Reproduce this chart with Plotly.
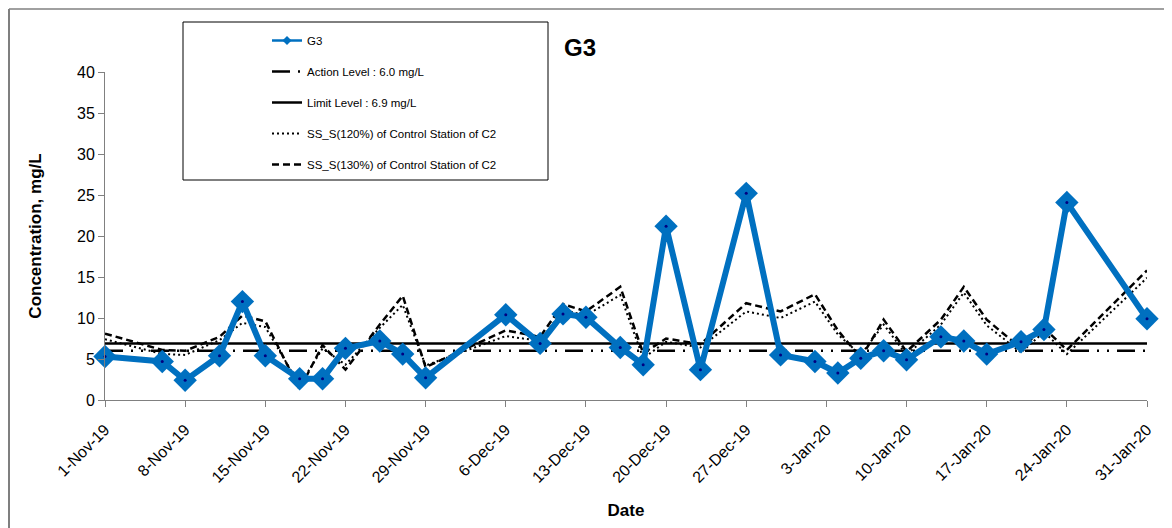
import plotly.graph_objects as go

dates = [
    "2019-11-01", "2019-11-06", "2019-11-08", "2019-11-11", "2019-11-13", "2019-11-15",
    "2019-11-18", "2019-11-20", "2019-11-22", "2019-11-25", "2019-11-27", "2019-11-29",
    "2019-12-06", "2019-12-09", "2019-12-11", "2019-12-13", "2019-12-16", "2019-12-18",
    "2019-12-20", "2019-12-23", "2019-12-27", "2019-12-30", "2020-01-02", "2020-01-04",
    "2020-01-06", "2020-01-08", "2020-01-10", "2020-01-13", "2020-01-15", "2020-01-17",
    "2020-01-20", "2020-01-22", "2020-01-24", "2020-01-31",
]
g3 = [5.3, 4.7, 2.4, 5.4, 12.0, 5.4, 2.6, 2.6, 6.3, 7.2, 5.6, 2.7,
      10.4, 6.9, 10.5, 10.1, 6.4, 4.3, 21.2, 3.7, 25.2, 5.5, 4.7, 3.3,
      5.1, 6.0, 4.9, 7.7, 7.2, 5.6, 7.1, 8.6, 24.1, 9.9]
ss_120 = [7.4, 5.6, 5.5, 7.3, 9.4, 8.9, 1.8, 6.3, 4.3, 8.8, 11.6, 4.2,
          7.8, 7.2, 11.0, 10.3, 12.8, 5.1, 7.1, 6.4, 10.8, 10.0, 12.0, 8.0,
          5.5, 9.2, 5.5, 9.2, 13.1, 9.1, 5.8, 8.3, 5.6, 14.9]
ss_130 = [8.1, 6.1, 6.0, 7.7, 10.3, 9.6, 1.3, 6.7, 3.7, 9.2, 12.7, 4.0,
          8.5, 7.7, 11.7, 10.8, 13.8, 5.7, 7.5, 6.8, 11.8, 10.8, 12.9, 8.5,
          5.1, 9.8, 5.9, 9.8, 13.8, 9.8, 6.3, 8.8, 6.1, 15.8]
action_level = 6.0
limit_level = 6.9
x_range = ["2019-11-01", "2020-01-31"]

BLUE = "#0070C0"
FONT = "Liberation Sans, Arial, sans-serif"

# page body has an 8px margin, so the figure is sized to fit the window
# and positions below are given in window pixels
PLOT_L, PLOT_W, PLOT_B, PLOT_H = 105, 1042, 400, 328


def px_x(v):
    return (v - PLOT_L) / PLOT_W


def px_y(v):
    return (PLOT_B - v) / PLOT_H


fig = go.Figure()

fig.add_trace(go.Scatter(
    x=x_range, y=[action_level] * 2, mode="lines",
    line=dict(color="black", width=2.5, dash="18px,8px,2px,8px,2px,8px"),
    name="Action Level : 6.0 mg/L", legendgroup="b", legendrank=2,
))
fig.add_trace(go.Scatter(
    x=x_range, y=[limit_level] * 2, mode="lines",
    line=dict(color="black", width=2.5),
    name="Limit Level : 6.9 mg/L", legendgroup="c", legendrank=3,
))
fig.add_trace(go.Scatter(
    x=dates, y=ss_120, mode="lines",
    line=dict(color="black", width=2, dash="2px,3px"),
    name="SS_S(120%) of Control Station of C2", legendgroup="d", legendrank=4,
))
fig.add_trace(go.Scatter(
    x=dates, y=ss_130, mode="lines",
    line=dict(color="black", width=2.5, dash="7px,4px"),
    name="SS_S(130%) of Control Station of C2", legendgroup="e", legendrank=5,
))
fig.add_trace(go.Scatter(
    x=dates, y=g3, mode="lines+markers", showlegend=False,
    line=dict(color=BLUE, width=6),
    marker=dict(symbol="diamond", size=18, color=BLUE),
    cliponaxis=False,
))
fig.add_trace(go.Scatter(
    x=dates, y=g3, mode="markers", showlegend=False,
    marker=dict(symbol="circle", size=3, color="#000080"),
    cliponaxis=False,
))
# legend-only entry with small marker
fig.add_trace(go.Scatter(
    x=[None], y=[None], mode="lines+markers",
    line=dict(color=BLUE, width=2.5),
    marker=dict(symbol="diamond", size=7, color=BLUE),
    name="G3", legendgroup="a", legendrank=1,
))

axis_common = dict(
    showline=True, linecolor="#808080", linewidth=1,
    ticks="outside", ticklen=6, tickcolor="#808080",
    showgrid=False, zeroline=False, automargin=False,
)
fig.update_xaxes(
    type="date", range=x_range, dtick=7 * 86400000, tick0="2019-11-01",
    tickformat="%-d-%b-%y", tickangle=-45, ticklabelstandoff=7,
    tickfont=dict(size=16, color="black", family=FONT),
    title=dict(text="<b>Date</b>", font=dict(size=17, color="black", family=FONT), standoff=19),
    **axis_common,
)
fig.update_yaxes(
    range=[0, 40], dtick=5,
    tickfont=dict(size=16, color="black", family=FONT),
    title=dict(text="<b>Concentration, mg/L</b>", font=dict(size=17, color="black", family=FONT), standoff=31),
    **axis_common,
)

fig.add_annotation(
    text="<b>G3</b>", xref="paper", yref="paper", x=px_x(580), y=px_y(48),
    xanchor="center", yanchor="middle",
    showarrow=False, font=dict(size=24, color="black", family=FONT),
)

# legend frame and chart outer frame
fig.add_shape(type="rect", xref="paper", yref="paper",
              x0=px_x(183), x1=px_x(548), y0=px_y(180), y1=px_y(22),
              line=dict(color="black", width=1), fillcolor="white", layer="below")
fig.add_shape(type="line", xref="paper", yref="paper",
              x0=px_x(9), x1=px_x(9), y0=px_y(540), y1=px_y(9),
              line=dict(color="#555555", width=1.5))
fig.add_shape(type="line", xref="paper", yref="paper",
              x0=px_x(9), x1=px_x(1180), y0=px_y(9), y1=px_y(9),
              line=dict(color="#808080", width=1.5))

fig.update_layout(
    width=1164, height=520,
    margin=dict(l=PLOT_L - 8, r=1164 - (PLOT_L - 8) - PLOT_W, t=PLOT_B - PLOT_H - 8,
                b=520 - (PLOT_B - 8)),
    plot_bgcolor="white", paper_bgcolor="white",
    font=dict(family=FONT, color="black"),
    showlegend=True,
    legend=dict(
        x=px_x(267), y=px_y(26), xanchor="left", yanchor="top",
        bgcolor="rgba(0,0,0,0)", borderwidth=0,
        font=dict(size=11.5, color="black", family=FONT),
        tracegroupgap=12, traceorder="grouped",
    ),
)

fig.write_html("out.html")
